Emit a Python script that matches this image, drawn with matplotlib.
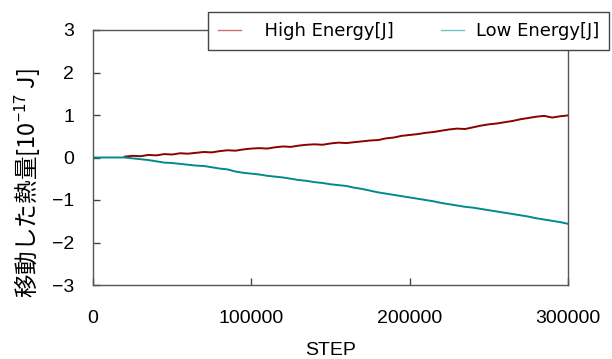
import matplotlib
matplotlib.use("Agg")
import matplotlib.pyplot as plt

plt.rcParams['font.family'] = ['Noto Sans CJK JP', 'DejaVu Sans']
plt.rcParams['mathtext.fontset'] = 'custom'
plt.rcParams['mathtext.rm'] = 'Noto Sans CJK JP'
plt.rcParams['mathtext.it'] = 'Noto Sans CJK JP'
plt.rcParams['axes.unicode_minus'] = True

steps_low = list(range(0, 300001, 5000))
low_energy = [0, 0, 0, 0, 0, -0.02, -0.04, -0.06, -0.09, -0.12,
              -0.13, -0.15, -0.17, -0.19, -0.20, -0.23, -0.26, -0.28, -0.33, -0.36,
              -0.38, -0.40, -0.43, -0.45, -0.47, -0.50, -0.53, -0.55, -0.58, -0.60,
              -0.63, -0.65, -0.67, -0.71, -0.74, -0.78, -0.82, -0.85, -0.88, -0.91,
              -0.94, -0.97, -1.00, -1.03, -1.07, -1.10, -1.13, -1.16, -1.18, -1.21,
              -1.24, -1.27, -1.30, -1.33, -1.36, -1.39, -1.43, -1.46, -1.49, -1.52,
              -1.56]

steps_high = list(range(20000, 300001, 5000))
high_energy = [0.02, 0.04, 0.03, 0.06, 0.05, 0.08, 0.07, 0.10, 0.09, 0.11,
               0.13, 0.12, 0.15, 0.17, 0.16, 0.19, 0.21, 0.22, 0.21, 0.24,
               0.26, 0.25, 0.28, 0.30, 0.31, 0.30, 0.33, 0.35, 0.34, 0.36,
               0.38, 0.40, 0.41, 0.45, 0.47, 0.51, 0.53, 0.55, 0.58, 0.60,
               0.63, 0.66, 0.68, 0.67, 0.71, 0.75, 0.78, 0.80, 0.83, 0.86,
               0.90, 0.93, 0.96, 0.98, 0.94, 0.97, 0.99]

x_ticks = [0, 100000, 200000, 300000]
y_ticks = [-3, -2, -1, 0, 1, 2, 3]

LAT = 'Liberation Sans'

fig = plt.figure(figsize=(6.12, 3.59), dpi=100)
ax = fig.add_axes([93/612, 1-285/359, (568-93)/612, (285-30)/359])

ax.plot(steps_high, high_energy, color='#8b0000', lw=1.4, label='  High Energy[J]')
ax.plot(steps_low, low_energy, color='#008b8b', lw=1.4, label='Low Energy[J]')

ax.set_xlim(0, 300000)
ax.set_ylim(-3, 3)
ax.set_xticks(x_ticks)
ax.set_xticklabels([str(v) for v in x_ticks], family=LAT)
ax.set_yticks(y_ticks)
ax.set_yticklabels([str(v).replace('-', '\u2212') for v in y_ticks], family=LAT)
ax.tick_params(axis='both', direction='in', length=5, width=1, color='#444444',
               labelsize=14)
ax.tick_params(axis='x', pad=18)
ax.tick_params(axis='y', pad=13.5)
for s in ax.spines.values():
    s.set_color('#555555')
    s.set_linewidth(1)

ax.set_xlabel('STEP', fontsize=14, family=LAT, labelpad=11)
ax.set_ylabel(r'移動した熱量[10$^{-17}$ J]', fontsize=17)
ax.yaxis.set_label_coords(-0.105, 0.40)

leg = ax.legend(loc='upper right', bbox_to_anchor=(609/612, 1-12/359),
                bbox_transform=fig.transFigure, ncol=2,
                prop={'family': 'DejaVu Sans', 'size': 13},
                frameon=True, fancybox=False, handlelength=1.28,
                handletextpad=0.67, columnspacing=2.6, borderpad=0.55,
                borderaxespad=0)
leg.get_frame().set_edgecolor('#444444')
leg.get_frame().set_linewidth(1)
leg.get_frame().set_alpha(1)
legend_handle_colors = ['#cc7070', '#6cc4c4']
for h, c in zip(leg.get_lines(), legend_handle_colors):
    h.set_linewidth(1.0)
    h.set_color(c)

fig.savefig('out.png', dpi=100)
